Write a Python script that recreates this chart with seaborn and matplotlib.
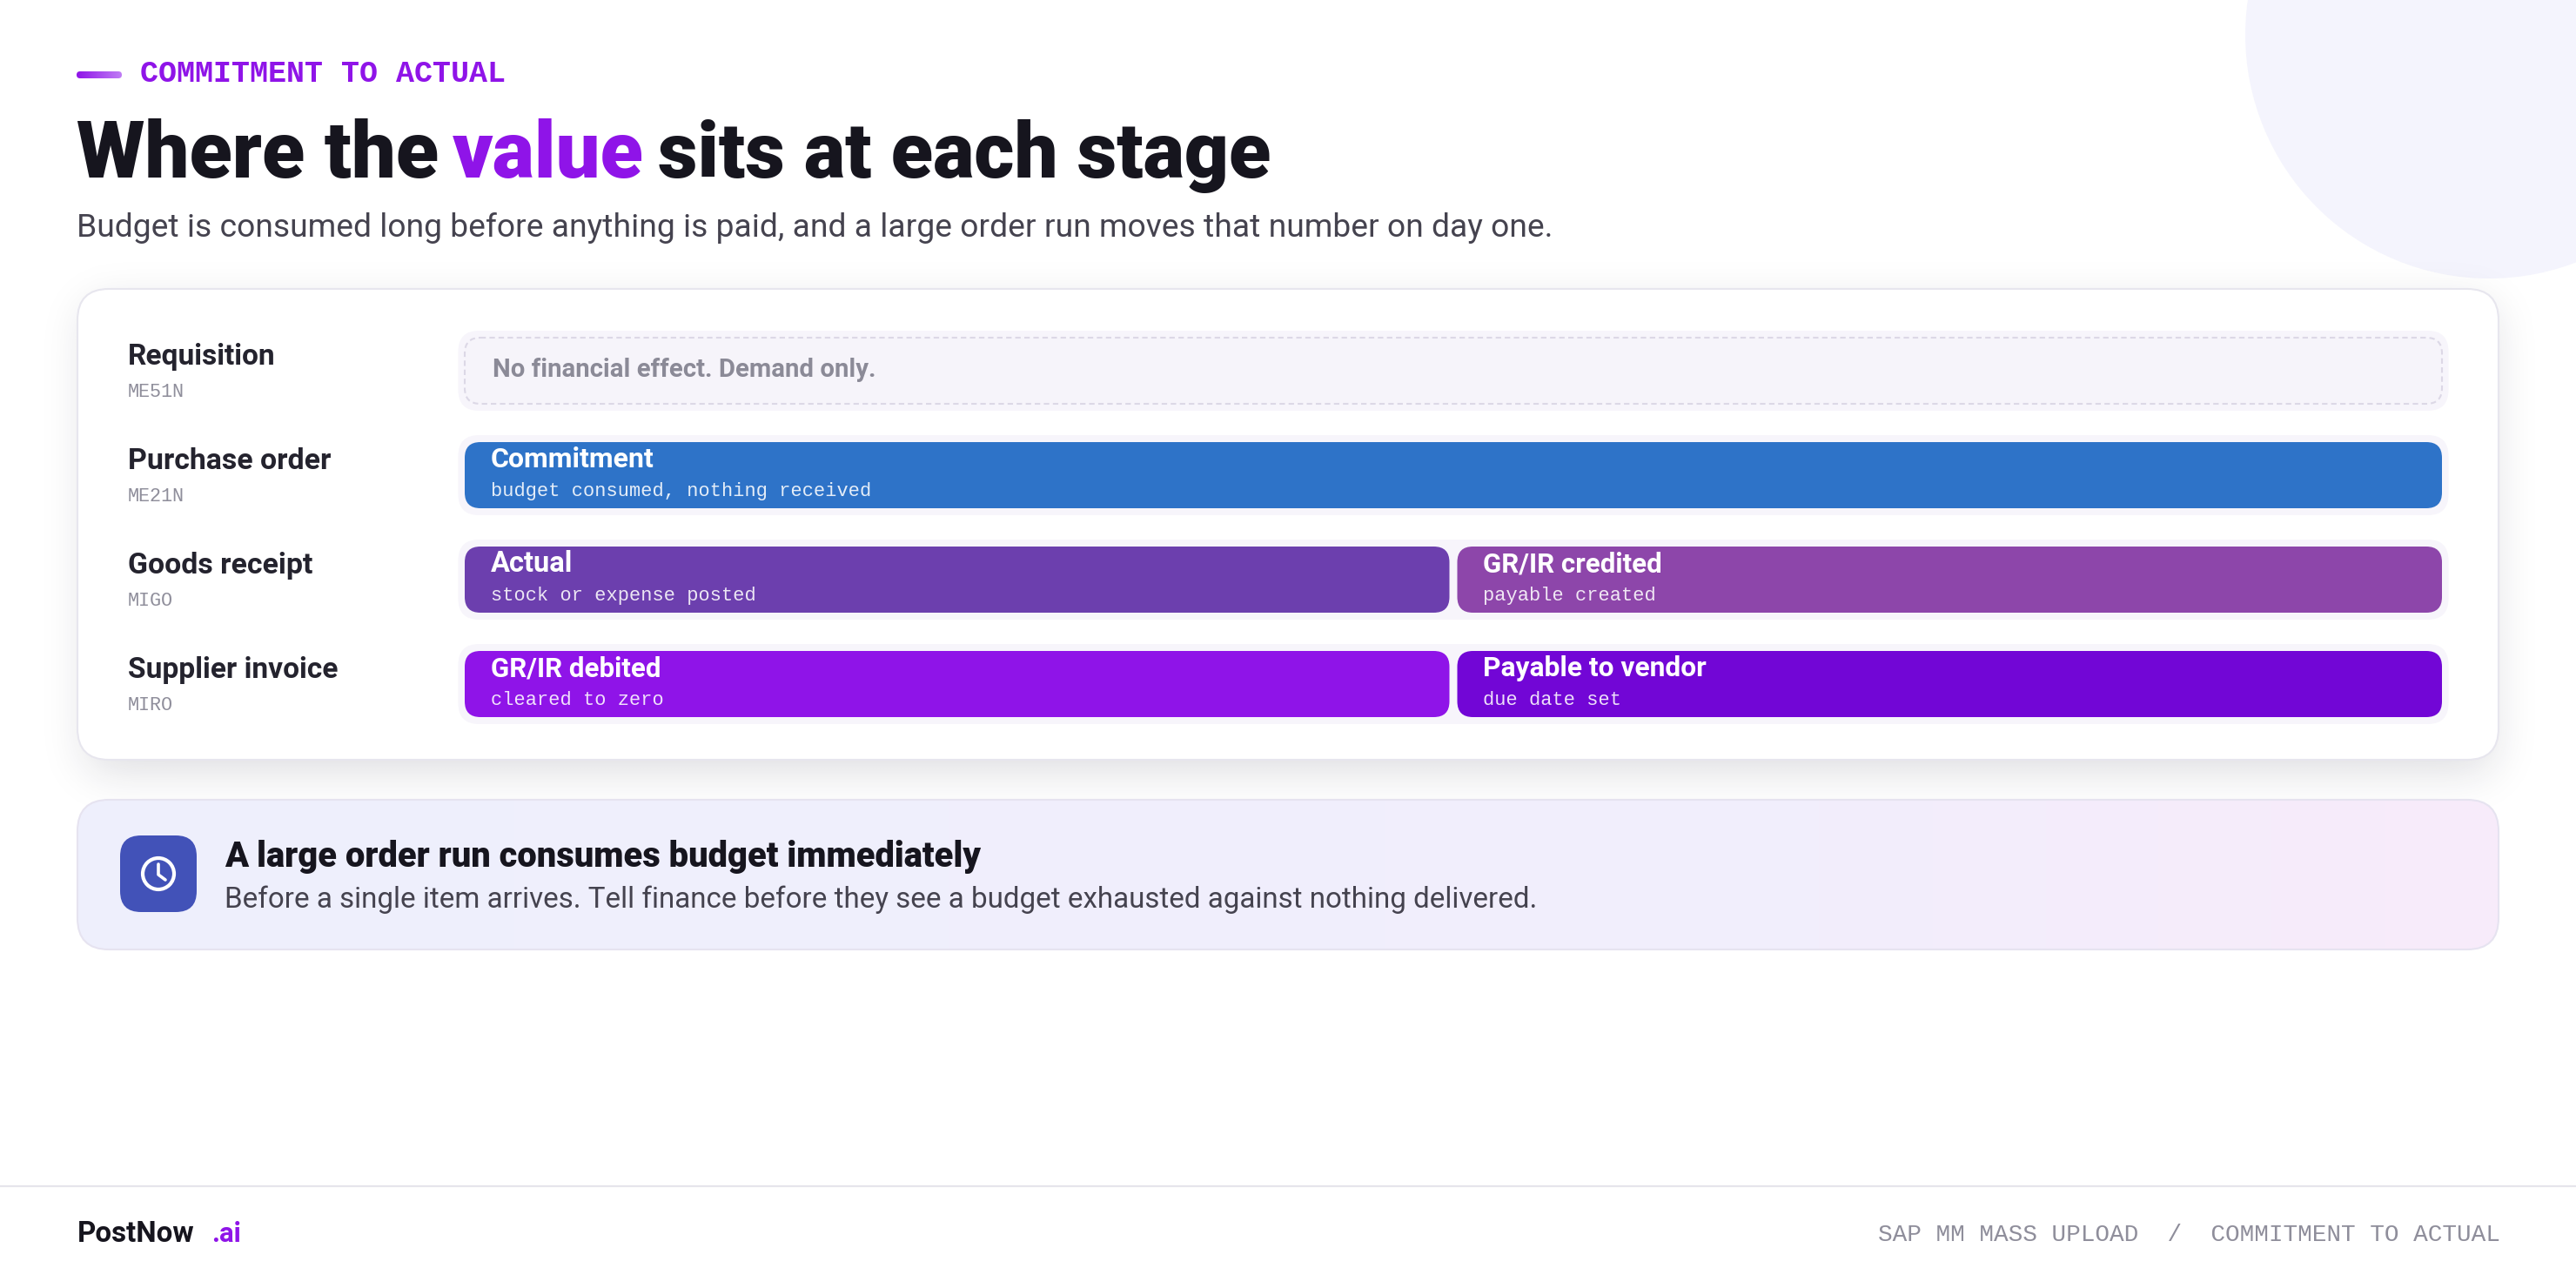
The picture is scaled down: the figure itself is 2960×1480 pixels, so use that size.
import math
import numpy as np
import pandas as pd
import matplotlib
matplotlib.use("Agg")
import matplotlib.pyplot as plt
from matplotlib.patches import FancyBboxPatch, Circle
import seaborn as sns

# ---- chart content ----
stages = ["Requisition", "Purchase order", "Goods receipt", "Supplier invoice"]
tcodes = ["ME51N", "ME21N", "MIGO", "MIRO"]
track_share = [1, 1, 1, 1]
seg_stage = ["Requisition", "Purchase order", "Goods receipt", "Goods receipt", "Supplier invoice", "Supplier invoice"]
seg_label = ["No financial effect. Demand only.", "Commitment", "Actual", "GR/IR credited", "GR/IR debited", "Payable to vendor"]
seg_note = ["", "budget consumed, nothing received", "stock or expense posted", "payable created", "cleared to zero", "due date set"]
seg_start = [0, 0, 0, 0.5, 0, 0.5]
seg_share = [1, 1, 0.5, 0.5, 0.5, 0.5]
seg_color = ["#f6f4fa", "#2e73c8", "#6c3fae", "#8d46aa", "#8f14e8", "#7206d6"]

PURPLE = "#8f14e8"
INK = "#16151e"
BODY = "#45434f"
MUTED = "#8f8e9b"
LINE = "#e7e6ee"

sns.set_theme(style="white")
plt.rcParams["font.family"] = ["Roboto", "DejaVu Sans"]

W, H = 2960, 1480
fig = plt.figure(figsize=(W / 100, H / 100), dpi=100, facecolor="white")
ax = fig.add_axes([0, 0, 1, 1])
ax.set_xlim(0, W)
ax.set_ylim(H, 0)
ax.axis("off")
renderer = fig.canvas.get_renderer()


def fit(text, x0, x1, base, family="Roboto", weight="bold", color=INK, z=10, alpha=None):
    """Real text on a baseline, sized so that it spans x0..x1 in pixels."""
    t = ax.text(x0, base, text, family=family, weight=weight, color=color, fontsize=20,
                ha="left", va="baseline", zorder=z, alpha=alpha)
    width = t.get_window_extent(renderer).width
    t.set_fontsize(20 * (x1 - x0) / width)
    return t


def rbox(x0, y0, x1, y1, r, fc="none", ec="none", lw=0, z=2, ls="-"):
    p = FancyBboxPatch((x0, y0), x1 - x0, y1 - y0, boxstyle=f"round,pad=0,rounding_size={r}",
                       fc=fc, ec=ec, lw=lw, ls=ls, zorder=z)
    ax.add_patch(p)
    return p


def hgrad(x0, y0, x1, y1, stops, clip, z):
    cols = np.array([matplotlib.colors.to_rgb(c) for _, c in stops])
    pos = [s for s, _ in stops]
    u = np.linspace(0, 1, 512)
    img = np.stack([np.interp(u, pos, cols[:, i]) for i in range(3)], axis=-1)[None, :, :]
    im = ax.imshow(img, extent=(x0, x1, y1, y0), aspect="auto", zorder=z, interpolation="bilinear")
    im.set_clip_path(clip)


# decorative circle
ax.add_patch(Circle((2860, 40), 280, fc="#f4f4fd", ec="none", zorder=1))

# card shadow
erf = np.vectorize(math.erf)
xs = np.arange(0, W, 4.0)
ys = np.arange(200, 1100, 4.0)
sig = 26.0
fx = 0.5 * (erf((xs - 100) / (sig * 2**0.5)) - erf((xs - 2860) / (sig * 2**0.5)))
fy = 0.5 * (erf((ys - 350) / (sig * 2**0.5)) - erf((ys - 882) / (sig * 2**0.5)))
alpha = 0.16 * np.outer(fy, fx)
shadow = np.zeros(alpha.shape + (4,))
shadow[..., :3] = matplotlib.colors.to_rgb("#1a1a30")
shadow[..., 3] = alpha
ax.imshow(shadow, extent=(0, W, 1100, 200), aspect="auto", zorder=1.5, interpolation="bilinear")

# card
rbox(89, 332, 2871, 873, 36, fc="white", ec=LINE, lw=1.5, z=2)

# header
eyebar = rbox(88, 82, 140, 90, 4, fc="none", z=3)
hgrad(88, 82, 140, 90, [(0, PURPLE), (1, "#c07cf5")], eyebar, 3)
fit("COMMITMENT TO ACTUAL", 161, 580, 94, family="Liberation Mono", weight="bold", color=PURPLE)
fit("Where the", 88, 505, 204, weight="black")
fit("value", 520, 740, 204, weight="black", color=PURPLE)
fit("sits at each stage", 756, 1460, 204, weight="black")
fit("Budget is consumed long before anything is paid, and a large order run moves that number on day one.",
    88, 1778, 272, weight="normal", color=BODY)

# ---- stage rows through seaborn's own scales ----
BAR_L, BAR_R, ROW0, PITCH = 534, 2806, 426, 120
ax_b = fig.add_axes([BAR_L / W, 1 - (ROW0 + 3.5 * PITCH) / H, (BAR_R - BAR_L) / W, 4 * PITCH / H])
ax_b.patch.set_alpha(0)
sns.barplot(x=track_share, y=stages, order=stages, color="#f7f5fb", saturation=1,
            width=92 / PITCH, ax=ax_b)
n_track = len(ax_b.patches)
segments = pd.DataFrame({"stage": seg_stage, "label": seg_label, "share": seg_share,
                         "start": seg_start, "note": seg_note, "color": seg_color})
sns.barplot(data=segments, x="share", y="stage", hue="label", order=stages, dodge=False,
            palette=dict(zip(seg_label, seg_color)), saturation=1, width=76 / PITCH,
            legend=False, ax=ax_b)
ax_b.set_xlim(0, 1)
ax_b.set_ylim(3.5, -0.5)
ax_b.axis("off")
fig.canvas.draw()


def to_px(x, y):
    d = ax_b.transData.transform((x, y))
    return ax.transData.inverted().transform(d)


bars = list(ax_b.patches)
for rect in bars[:n_track]:
    (x0, y0) = to_px(rect.get_x(), rect.get_y())
    (x1, y1) = to_px(rect.get_x() + rect.get_width(), rect.get_y() + rect.get_height())
    rbox(x0 - 7.5, min(y0, y1), x1 + 7.5, max(y0, y1), 24, fc="#f7f5fb", z=3)
    rect.set_visible(False)

for rect, row in zip(bars[n_track:], segments.itertuples()):
    rect.set_visible(False)
    (x0, y0) = to_px(row.start, rect.get_y())
    (x1, y1) = to_px(row.start + row.share, rect.get_y() + rect.get_height())
    if row.start > 0:
        x0 += 4.5
    if row.start + row.share < 1:
        x1 -= 4.5
    top, bot = min(y0, y1), max(y0, y1)
    mid = (top + bot) / 2
    if row.note:
        rbox(x0, top, x1, bot, 18, fc=row.color, z=4)
        tx = x0 + 30
        title_w = {"Commitment": 187, "Actual": 94, "GR/IR credited": 205, "GR/IR debited": 195,
                   "Payable to vendor": 256}[row.label]
        fit(row.label, tx, tx + title_w, mid - 9, weight="bold", color="white")
        fit(row.note, tx, tx + 13.2 * len(row.note), mid + 24, family="Liberation Mono",
            weight="normal", color="white", alpha=0.88)
    else:
        rbox(x0, top, x1, bot, 18, fc=row.color, ec="#dcd8e6", lw=1.5, ls=(0, (3, 2)), z=4)
        fit(row.label, x0 + 32, x0 + 472, mid + 7, weight="bold", color="#8b8a97")

label_w = [170, 233, 212, 241]
code_w = [65, 65, 52, 52]
for i, (st, code) in enumerate(zip(stages, tcodes)):
    _, yc = to_px(0, i)
    fit(st, 147, 147 + label_w[i], yc - 7, weight="bold", color="#24232e")
    fit(code, 147, 147 + code_w[i], yc + 30, family="Liberation Mono", weight="normal", color=MUTED)

# ---- callout ----
box = rbox(89, 919, 2871, 1091, 36, fc="none", z=3)
hgrad(88, 918, 2872, 1092, [(0, "#eef0fd"), (0.72, "#f2eefc"), (1, "#f8ebfa")], box, 3)
rbox(89, 919, 2871, 1091, 36, fc="none", ec="#e6e3f0", lw=1.5, z=3.1)
rbox(138, 960, 226, 1048, 24, fc="#4252b8", z=4)
ax.add_patch(Circle((182, 1004), 18, fc="none", ec="white", lw=3, zorder=5))
ax.plot([182, 182, 190], [993, 1005, 1011], color="white", lw=2.6, solid_capstyle="round",
        solid_joinstyle="round", zorder=5)
ax.set_xlim(0, W)
ax.set_ylim(H, 0)
fit("A large order run consumes budget immediately", 258, 1127, 996, weight="black")
fit("Before a single item arrives. Tell finance before they see a budget exhausted against nothing delivered.",
    258, 1760, 1043, weight="normal", color=BODY)

# ---- footer ----
ax.plot([0, W], [1363, 1363], color="#e6e5ec", lw=1.6, zorder=3)
fit("PostNow", 89, 223, 1427, weight="bold")
fit(".ai", 243, 277, 1427, weight="bold", color=PURPLE)
fit("SAP MM MASS UPLOAD  /  COMMITMENT TO ACTUAL", 2158, 2871, 1426, family="Liberation Mono",
    weight="normal", color=MUTED)
ax.set_xlim(0, W)
ax.set_ylim(H, 0)

fig.savefig("out.png", dpi=100, facecolor="white")
